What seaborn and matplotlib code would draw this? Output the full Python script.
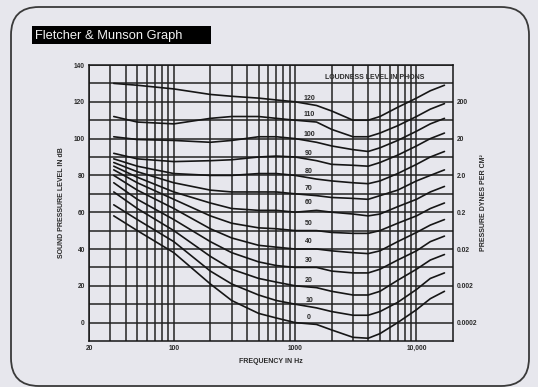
import matplotlib
matplotlib.use("Agg")
import matplotlib.pyplot as plt
from matplotlib.patches import FancyBboxPatch, Rectangle
import pandas as pd
import seaborn as sns

freqs = [32, 50, 100, 200, 300, 500, 700, 1000, 1500, 2000, 3000, 4000, 5000, 7000, 10000, 13000, 17000]

# sound pressure level (dB) per loudness level (phons)
phon_120 = [130, 129, 127, 124, 123, 122, 121, 120, 118, 115, 110, 110, 112, 117, 122, 126, 129]
phon_110 = [112, 109, 108, 111, 112, 112, 111, 110, 109, 105, 101, 101, 103, 107, 112, 116, 119]
phon_100 = [101, 99.5, 99, 98, 99, 101, 101, 100, 98, 96, 94, 93, 95, 99, 104, 108, 111]
phon_90 = [92, 89, 87.5, 88, 88.5, 90, 90.5, 90, 88, 86, 85.5, 85, 87, 91, 96, 100, 103]
phon_80 = [89, 85, 81, 80, 80, 81, 81, 80, 78, 77, 76, 75.5, 77, 81, 86, 90, 93]
phon_70 = [87, 82, 76, 72, 71, 71, 71, 70, 69, 68, 67.5, 67, 69, 72, 77, 80, 83]
phon_60 = [85, 79, 71, 65, 62, 61, 61, 60, 61, 60, 59, 58, 59, 63, 67, 71, 74]
phon_50 = [83, 76, 67, 58, 54, 51.5, 51, 50, 50, 49, 48.5, 48.5, 50, 54, 58, 62, 65]
phon_40 = [80, 72, 62, 51, 46, 42, 41, 40, 40, 39, 38, 37.5, 39, 44, 49, 53, 56]
phon_30 = [76, 67, 56, 44, 38, 33, 31, 30, 30, 28, 27, 27, 29, 34, 39, 44, 47]
phon_20 = [71, 62, 50, 36, 29, 24, 22, 20, 19, 17, 15, 15, 17, 23, 29, 34, 37]
phon_10 = [64, 56, 44, 28, 21, 15, 12, 10, 8, 6, 4, 4, 6, 11, 18, 24, 27]
phon_0 = [58, 50, 38, 21, 12, 5, 2.5, 0, -1, -4, -8, -8.5, -6, 0, 7, 13, 17]

phons = [120, 110, 100, 90, 80, 70, 60, 50, 40, 30, 20, 10, 0]
curves = [phon_120, phon_110, phon_100, phon_90, phon_80, phon_70, phon_60,
          phon_50, phon_40, phon_30, phon_20, phon_10, phon_0]

db_ticks = [0, 20, 40, 60, 80, 100, 120, 140]
pressure_ticks = [0, 20, 40, 60, 80, 100, 120]
pressure_labels = ["0.0002", "0.002", "0.02", "0.2", "2.0", "20", "200"]
freq_ticks = [20, 100, 1000, 10000]
freq_labels = ["20", "100", "1000", "10,000"]

rows = []
for p, vals in zip(phons, curves):
    for f, v in zip(freqs, vals):
        rows.append({"phon": p, "freq": f, "spl": v})
df = pd.DataFrame(rows)

bg = "#e7e7ed"
ink = "#161616"
txt = "#2a2a2a"
sns.set_style("white")
plt.rcParams["font.family"] = ["Liberation Sans", "DejaVu Sans"]

fig = plt.figure(figsize=(5.38, 3.87), dpi=100, facecolor=bg)
ax = fig.add_axes([89 / 538, 1 - 341 / 387, 364 / 538, 276 / 387], facecolor=bg)

sns.lineplot(data=df, x="freq", y="spl", hue="phon", palette=[ink] * len(phons),
             estimator=None, legend=False, linewidth=1.2, ax=ax)

ax.set_xscale("log")
ax.set_xlim(20, 20000)
ax.set_ylim(-10, 140)

minor_x = [m * d for d in (10, 100, 1000) for m in range(2, 10)] + [10000]
ax.set_xticks([t for t in minor_x if t not in freq_ticks], minor=True)
ax.set_xticks(freq_ticks)
ax.set_xticklabels(freq_labels)
ax.set_yticks(db_ticks)
ax.set_yticks(range(10, 140, 20), minor=True)
ax.grid(True, which="both", color="#222222", linewidth=1.1)
ax.tick_params(which="both", length=0, labelsize=4.8, pad=3, colors=txt)
for lbl in ax.get_xticklabels() + ax.get_yticklabels():
    lbl.set_fontweight("bold")
for s in ax.spines.values():
    s.set_color(ink)
    s.set_linewidth(1.1)

ax.set_xlabel("FREQUENCY IN Hz", fontsize=5, color=txt, labelpad=4, fontweight="bold")
ax.set_ylabel("SOUND PRESSURE LEVEL IN dB", fontsize=5, color=txt, labelpad=6,
              fontweight="bold")

ax2 = ax.twinx()
ax2.set_ylim(ax.get_ylim())
ax2.set_yticks(pressure_ticks)
ax2.set_yticklabels(pressure_labels)
ax2.tick_params(length=0, labelsize=4.8, pad=3, colors=txt)
for lbl in ax2.get_yticklabels():
    lbl.set_fontweight("bold")
ax2.set_ylabel("PRESSURE DYNES PER CM\u00b2", fontsize=5, color=txt, labelpad=2,
               fontweight="bold")
for s in ax2.spines.values():
    s.set_visible(False)

# phon labels just above each curve, a little right of 1 kHz
label_idx = freqs.index(1500)
for p, vals in zip(phons, curves):
    ax.text(1300, vals[label_idx] + 4, str(p), fontsize=5, ha="center", va="center",
            color=txt, fontweight="bold")
ax.text(0.785, 0.955, "LOUDNESS LEVEL IN PHONS", transform=ax.transAxes, fontsize=5,
        ha="center", va="center", color=txt, fontweight="bold")

# rounded outer frame and black title box
frame = FancyBboxPatch((0.11, 0.01), 5.18, 3.79, boxstyle="round,pad=0,rounding_size=0.28",
                       transform=fig.dpi_scale_trans, facecolor="none",
                       edgecolor="#3a3a3a", linewidth=1.3)
fig.patches.append(frame)
fig.patches.append(Rectangle((0.32, 3.43), 1.79, 0.18, transform=fig.dpi_scale_trans,
                             facecolor="black", edgecolor="none"))
fig.text(0.35, 3.515, "Fletcher & Munson Graph", transform=fig.dpi_scale_trans,
         color="#f2f2f2", fontsize=9.3, va="center", ha="left")

fig.savefig("out.png", dpi=100, facecolor=bg)
